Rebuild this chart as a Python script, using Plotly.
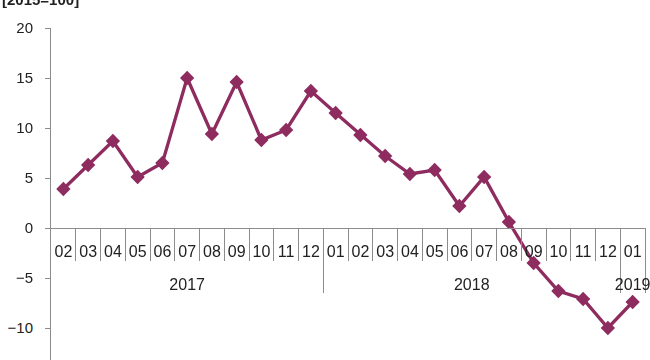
import plotly.graph_objects as go

months = ["02", "03", "04", "05", "06", "07", "08", "09", "10", "11", "12",
          "01", "02", "03", "04", "05", "06", "07", "08", "09", "10", "11", "12",
          "01"]
years = ["2017"] * 11 + ["2018"] * 12 + ["2019"]
values = [3.9, 6.3, 8.7, 5.1, 6.5, 15.0, 9.4, 14.6, 8.8, 9.8, 13.7,
          11.5, 9.3, 7.2, 5.4, 5.8, 2.2, 5.1, 0.6, -3.5, -6.3, -7.1, -10.0,
          -7.4]
y_ticks = [-10, -5, 0, 5, 10, 15, 20]
unit_label = "[2015=100]"

color = "#8E2B5F"
axis_grey = "#8C8C8C"
text_col = "#222222"

y_min, y_max = -13.2, 20
x_pos = (0 - y_min) / (y_max - y_min)
x_range = [-0.5, len(months) - 0.46]

idx = list(range(len(months)))
year_list = list(dict.fromkeys(years))
# centre of each year group and boundary after each group (category index units)
year_centers, year_bounds = [], []
for yv in year_list:
    ii = [i for i, y in enumerate(years) if y == yv]
    year_centers.append((ii[0] + ii[-1]) / 2)
    year_bounds.append(ii[-1] + 0.5)

fig = go.Figure()
fig.add_trace(go.Scatter(
    x=idx, y=values, mode="lines+markers",
    line=dict(color=color, width=3.3),
    marker=dict(symbol="diamond", size=11, color=color),
    showlegend=False, cliponaxis=False, hoverinfo="y",
))
# helper (invisible) trace so the year axis is drawn
fig.add_trace(go.Scatter(
    x=idx, y=values, xaxis="x2", mode="markers", opacity=0,
    showlegend=False, hoverinfo="skip",
))

fig.update_layout(
    width=650, height=360,
    margin=dict(l=51, r=2, t=28, b=0),
    paper_bgcolor="white", plot_bgcolor="white",
    font=dict(family="Liberation Sans, Arial, sans-serif", color=text_col),
    xaxis=dict(
        anchor="free", position=x_pos, range=x_range,
        tickmode="array", tickvals=idx, ticktext=months, ticks="",
        tickangle=0, tickfont=dict(size=16), ticklabelstandoff=9,
        ticklabeloverflow="allow",
        minor=dict(tickmode="array", tickvals=[i + 0.5 for i in idx],
                   ticks="outside", ticklen=32, tickcolor=axis_grey,
                   tickwidth=1, showgrid=False),
        showline=True, linecolor=axis_grey, linewidth=1,
        showgrid=False, zeroline=False,
    ),
    xaxis2=dict(
        anchor="free", position=x_pos, overlaying="x", range=x_range,
        tickmode="array", tickvals=year_centers, ticktext=year_list,
        ticks="", tickangle=0, tickfont=dict(size=16),
        ticklabelstandoff=45, ticklabeloverflow="allow",
        minor=dict(tickmode="array", tickvals=year_bounds,
                   ticks="outside", ticklen=64, tickcolor=axis_grey,
                   tickwidth=1, showgrid=False),
        showline=False, showgrid=False, zeroline=False,
    ),
    yaxis=dict(
        range=[y_min, y_max], tickvals=y_ticks,
        showline=True, linecolor=axis_grey, linewidth=1,
        ticks="outside", ticklen=5, tickcolor=axis_grey,
        tickfont=dict(size=15), showgrid=False, zeroline=False,
        ticklabelstandoff=9,
    ),
    annotations=[dict(
        text="<b>" + unit_label + "</b>", xref="paper", yref="paper",
        x=-51 / 597, y=1 + 29 / 332, xanchor="left", yanchor="middle",
        showarrow=False, font=dict(size=15, color=text_col),
    )],
)

fig.write_html("out.html", config={"displayModeBar": False},
               post_script="document.body.style.margin='0';")
